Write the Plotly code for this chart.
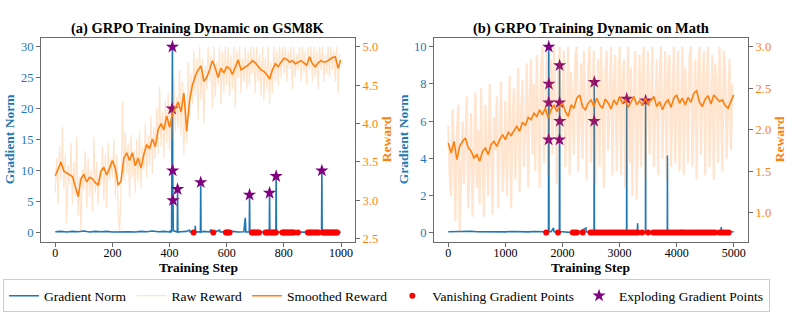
import plotly.graph_objects as go

W, H = 793, 317
FONT = "Liberation Serif"
BLUE = "#1f77b4"
ORANGE = "#ff7f0e"
RAW_A = "rgba(255,127,14,0.22)"
RAW_B = "rgba(255,127,14,0.2)"
SPINE = "#6a6a6a"

# ---------------- (a) GSM8K ----------------
grad_steps_a = [0, 20, 40, 60, 80, 100, 120, 140, 160, 180, 200, 220, 240, 260, 280, 300, 320, 340, 360, 380, 400,
                402, 404, 407, 409, 410, 411, 412, 413, 420, 427, 428, 429, 440, 460, 470, 472, 480, 484, 489, 490, 491,
                500, 508, 509, 510, 520, 540, 545, 547, 553, 560, 575, 577, 590, 600, 610, 620, 640, 660, 665, 667,
                679, 680, 681, 690, 700, 705, 707, 720, 730, 740, 749, 750, 751, 760, 772, 773, 774, 785, 800, 820,
                840, 860, 880, 900, 920, 932, 933, 934, 950, 970, 990, 999]
grad_vals_a = [0.15, 0.2, 0.1, 0.2, 0.15, 0.25, 0.1, 0.2, 0.15, 0.2, 0.1, 0.15, 0.2, 0.15, 0.1, 0.2, 0.15, 0.25, 0.15, 0.2, 0.1,
               0.35, 0.1, 0.2, 20.0, 30.0, 10.0, 5.2, 0.3, 0.2, 0.1, 7.0, 0.1, 0.15, 0.2, 0.4, 0.1, 0.15, 0.0, 0.1, 1.1, 0.1,
               0.15, 0.1, 8.1, 0.1, 0.2, 0.1, 0.5, 0.1, 0.0, 0.15, 0.4, 0.1, 0.15, 0.0, 0.0, 0.2, 0.1, 0.15, 2.4, 0.1,
               0.1, 6.1, 0.1, 0.0, 0.05, 0.3, 0.0, 0.1, 0.15, 0.0, 0.05, 6.4, 0.05, 0.0, 0.05, 9.1, 0.05, 0.1, 0.0, 0.05,
               0.0, 0.1, 0.05, 0.0, 0.05, 0.05, 10.0, 0.05, 0.0, 0.05, 0.0, 0.05]

vanish_steps_a = [484, 553, 597, 601, 605, 610, 688, 692, 697, 702, 707, 713, 736, 741, 746, 752, 758, 763, 768, 772,
                  795, 799, 803, 808, 812, 817, 822, 826, 831, 836, 849, 884, 889, 894, 899, 905, 911, 917, 922,
                  936, 940, 944, 948, 952, 957, 961, 965, 970, 974, 979, 983, 987]
vanish_vals_a = [0.0] * len(vanish_steps_a)

explode_steps_a = [409, 410, 411, 412, 428, 509, 680, 750, 773, 933]
explode_vals_a = [20.0, 30.0, 10.0, 5.2, 7.0, 8.1, 6.1, 6.4, 9.1, 10.0]

raw_steps_a = list(range(0, 1000, 5))
raw_a = [
    3.10, 3.55, 2.95, 3.70, 3.25, 3.96, 3.15, 3.60, 2.70, 3.45, 3.20, 3.75, 2.95, 3.50, 3.05, 3.83, 2.80, 3.30, 2.58, 3.40,
    3.15, 3.65, 2.90, 3.55, 3.05, 3.40, 2.85, 3.83, 3.10, 3.50, 2.95, 3.35, 3.20, 3.70, 3.00, 3.60, 2.90, 3.75, 3.25, 3.55,
    3.30, 3.80, 3.05, 3.60, 2.85, 2.58, 3.10, 4.28, 3.25, 3.90, 3.35, 3.75, 3.05, 3.85, 3.30, 3.65, 3.10, 3.80, 3.25, 3.90,
    3.15, 3.70, 3.40, 4.00, 3.30, 3.85, 3.45, 4.10, 3.35, 3.95, 3.55, 4.20, 3.60, 4.48, 3.70, 4.15, 3.55, 4.30, 3.75, 4.40,
    3.65, 4.25, 3.80, 4.60, 3.90, 4.35, 3.95, 4.70, 3.85, 4.55, 3.60, 4.30, 3.75, 4.80, 4.10, 4.65, 4.25, 4.95, 4.35, 4.85,
    4.05, 5.00, 4.30, 4.85, 4.00, 4.75, 4.45, 5.00, 4.55, 4.90, 4.20, 5.00, 4.35, 4.80, 4.50, 5.00, 4.25, 4.95, 4.40, 5.00,
    4.50, 5.00, 4.35, 4.90, 4.45, 5.00, 4.20, 4.95, 4.60, 5.00, 4.40, 4.85, 4.55, 5.00, 4.45, 4.95, 4.50, 5.00, 4.65, 5.00,
    4.40, 5.00, 4.55, 4.90, 4.35, 5.00, 4.30, 4.85, 4.45, 5.00, 4.25, 4.80, 4.40, 5.00, 4.55, 4.95, 4.50, 5.00, 4.60, 5.00,
    4.65, 5.00, 4.55, 4.95, 4.70, 5.00, 4.45, 5.00, 4.60, 4.90, 4.70, 5.00, 4.55, 5.00, 4.65, 4.95, 4.50, 5.00, 4.70, 5.00,
    4.55, 5.00, 4.60, 4.95, 4.45, 5.00, 4.70, 5.00, 4.55, 4.90, 4.65, 5.00, 4.60, 5.00, 4.70, 4.95, 4.55, 5.00, 4.40, 4.90,
]

smooth_steps_a = list(range(0, 1000, 10)) + [999]
smooth_a = [
    3.32, 3.40, 3.50, 3.38, 3.36, 3.33, 3.31, 3.18, 3.05, 3.28,
    3.34, 3.24, 3.30, 3.28, 3.23, 3.20, 3.38, 3.43, 3.33, 3.42,
    3.52, 3.42, 3.20, 3.25, 3.55, 3.62, 3.52, 3.62, 3.45, 3.55,
    3.42, 3.60, 3.72, 3.68, 3.80, 3.70, 3.92, 4.00, 3.92, 4.10,
    3.95, 4.12, 4.20, 4.28, 4.15, 4.40, 3.90, 4.30, 4.50, 4.62,
    4.70, 4.75, 4.55, 4.60, 4.70, 4.82, 4.72, 4.60, 4.72, 4.66,
    4.74, 4.72, 4.64, 4.75, 4.83, 4.70, 4.72, 4.75, 4.78, 4.82,
    4.79, 4.75, 4.70, 4.68, 4.64, 4.58, 4.70, 4.78, 4.74, 4.80,
    4.85, 4.84, 4.80, 4.82, 4.78, 4.80, 4.82, 4.79, 4.76, 4.87,
    4.78, 4.74, 4.79, 4.82, 4.80, 4.81, 4.84, 4.86, 4.87, 4.72,
    4.83,
]

# ---------------- (b) Math ----------------
grad_steps_b = [0, 100, 200, 300, 400, 500, 600, 700, 800, 900, 1000, 1100, 1200, 1300, 1400, 1500, 1600, 1700,
                1715, 1755, 1757, 1759, 1760, 1762, 1764, 1800, 1845, 1850, 1922, 1946, 1948, 1949, 1950, 1952, 1954,
                2000, 2180, 2300, 2410, 2415, 2500, 2553, 2555, 2557, 2559, 2700, 2900, 3100, 3123, 3125, 3127,
                3310, 3316, 3320, 3454, 3456, 3458, 3600, 3836, 3838, 3840, 4100, 4105, 4400, 4775, 4780, 4785, 4999]
grad_vals_b = [0.05, 0.06, 0.04, 0.05, 0.07, 0.05, 0.04, 0.06, 0.05, 0.05, 0.04, 0.06, 0.05, 0.05, 0.04, 0.06, 0.05, 0.05,
               0.0, 0.05, 5.0, 7.0, 10.0, 8.0, 0.05, 0.05, 0.25, 0.05, 0.0, 0.05, 5.0, 7.0, 9.0, 6.0, 0.05,
               0.05, 0.0, 0.05, 0.25, 0.05, 0.0, 0.0, 6.0, 8.1, 0.0, 0.0, 0.0, 0.0, 0.0, 7.2, 0.0,
               0.0, 0.5, 0.0, 0.0, 7.15, 0.0, 0.0, 0.0, 4.15, 0.0, 0.12, 0.0, 0.02, 0.0, 0.3, 0.0, 0.05]

vanish_steps_b = [1715, 1922, 2180, 2215, 2250, 2355, 2490, 2525, 2560, 2600, 2640, 2680, 2720, 2760, 2800, 2840,
                  2880, 2920, 2960, 3000, 3040, 3080, 3120, 3160, 3200, 3240, 3280, 3320, 3395, 3500, 3590, 3630,
                  3670, 3710, 3750, 3790, 3830, 3870, 3910, 3950, 3990, 4030, 4070, 4110, 4150, 4190, 4230, 4270,
                  4310, 4350, 4390, 4430, 4470, 4510, 4550, 4590, 4630, 4670, 4750, 4790, 4830, 4870, 4910]
vanish_vals_b = [0.0] * len(vanish_steps_b)

explode_steps_b = [1757, 1759, 1760, 1762, 1948, 1949, 1950, 1952, 2555, 2557, 3125, 3456]
explode_vals_b = [5.0, 7.0, 10.0, 8.0, 5.0, 7.0, 9.0, 6.0, 6.0, 8.1, 7.2, 7.1]

raw_steps_b = list(range(0, 5000, 25))
raw_b = [
    2.05, 1.45, 1.20, 2.25, 1.70, 0.90, 1.95, 2.30, 0.76, 1.60, 2.10, 1.35, 1.85, 2.40, 1.05, 1.55, 2.20, 0.95, 1.75, 2.45,
    1.30, 2.00, 1.10, 2.50, 1.65, 0.95, 2.30, 1.85, 1.20, 2.55, 1.50, 0.98, 2.15, 1.75, 2.40, 1.05, 1.90, 2.58, 1.25, 1.60,
    2.35, 1.20, 1.85, 2.65, 1.05, 2.10, 2.50, 1.40, 1.95, 2.75, 1.25, 2.20, 2.60, 1.55, 2.00, 2.80, 1.30, 2.40, 2.85, 1.70,
    2.55, 1.50, 2.90, 2.10, 1.30, 2.75, 3.00, 1.60, 2.35, 2.95, 1.45, 2.20, 2.85, 1.70, 3.00, 2.40, 1.35, 2.65, 3.00, 1.85,
    2.45, 2.95, 1.55, 2.10, 3.00, 1.45, 2.70, 2.30, 1.70, 2.90, 3.00, 1.50, 2.20, 2.80, 1.65, 2.95, 2.35, 1.40, 2.75, 3.00,
    1.60, 2.50, 2.95, 1.35, 2.15, 2.85, 1.55, 3.00, 2.40, 1.30, 2.70, 2.95, 1.75, 2.25, 3.00, 1.45, 2.60, 2.90, 1.50, 2.35,
    3.00, 1.45, 2.55, 2.85, 1.30, 2.20, 3.00, 1.60, 2.75, 1.20, 2.45, 2.95, 1.16, 2.10, 2.90, 1.55, 2.65, 3.00, 1.40, 2.30,
    2.95, 1.70, 2.40, 3.00, 1.55, 2.15, 2.85, 1.45, 2.60, 3.00, 1.65, 2.30, 2.95, 1.40, 2.70, 2.90, 1.55, 2.25, 3.00, 1.60,
    2.50, 2.95, 1.50, 2.20, 3.00, 1.45, 2.75, 2.40, 1.60, 2.90, 3.00, 1.55, 2.30, 2.85, 1.40, 2.65, 3.00, 1.70, 2.45, 2.95,
    1.45, 2.60, 3.00, 1.55, 2.25, 2.90, 1.40, 2.80, 2.50, 1.60, 3.00, 2.35, 1.50, 2.95, 2.70, 1.65, 2.40, 2.85, 1.75, 2.55,
]

smooth_steps_b = list(range(0, 5000, 50)) + [4999]
smooth_b = [
    1.84, 1.72, 1.86, 1.64, 1.80, 1.86, 1.90, 1.78, 1.74, 1.66,
    1.70, 1.62, 1.74, 1.78, 1.70, 1.82, 1.86, 1.80, 1.88, 1.94,
    1.88, 1.97, 1.93, 1.99, 2.04, 1.98, 2.09, 2.05, 2.15, 2.12,
    2.20, 2.16, 2.24, 2.18, 2.26, 2.14, 2.24, 2.30, 2.22, 2.28,
    2.32, 2.22, 2.16, 2.30, 2.26, 2.38, 2.42, 2.28, 2.24, 2.32,
    2.36, 2.28, 2.38, 2.30, 2.26, 2.37, 2.32, 2.25, 2.36, 2.30,
    2.40, 2.32, 2.36, 2.27, 2.34, 2.40, 2.30, 2.35, 2.29, 2.38,
    2.31, 2.36, 2.40, 2.28, 2.34, 2.24, 2.32, 2.36, 2.27, 2.38,
    2.42, 2.32, 2.38, 2.30, 2.39, 2.33, 2.44, 2.47, 2.33, 2.28,
    2.37, 2.41, 2.31, 2.42, 2.38, 2.34, 2.36, 2.29, 2.26, 2.34,
    2.42,
]

x_ticks_a = [0, 200, 400, 600, 800, 1000]
x_ticks_b = [0, 1000, 2000, 3000, 4000, 5000]
g_ticks_a = [0, 5, 10, 15, 20, 25, 30]
g_ticks_b = [0, 2, 4, 6, 8, 10]
r_ticks_a = [2.5, 3.0, 3.5, 4.0, 4.5, 5.0]
r_ticks_b = [1.0, 1.5, 2.0, 2.5, 3.0]

titles = ["(a) GRPO Training Dynamic on GSM8K", "(b) GRPO Training Dynamic on Math"]

fig = go.Figure()

def add_panel(xa, ya, ya2, gs, gv, vs, vv, es, ev, rs, rv, ss, sv, show, raw_color, raw_w):
    fig.add_trace(go.Scatter(x=gs, y=gv, mode="lines", name="Gradient Norm",
                             line=dict(color=BLUE, width=1.6), xaxis=xa, yaxis=ya,
                             showlegend=show, legendrank=1))
    fig.add_trace(go.Scatter(x=vs, y=vv, mode="markers", name="Vanishing Gradient Points",
                             marker=dict(color="red", size=6), xaxis=xa, yaxis=ya,
                             showlegend=show, legendrank=4))
    fig.add_trace(go.Scatter(x=es, y=ev, mode="markers", name="Exploding Gradient Points",
                             marker=dict(color="#800080", size=10, symbol="star"), xaxis=xa, yaxis=ya,
                             showlegend=show, legendrank=5))
    fig.add_trace(go.Scatter(x=rs, y=rv, mode="lines", name="Raw Reward",
                             line=dict(color=raw_color, width=raw_w), xaxis=xa, yaxis=ya2,
                             showlegend=show, legendrank=2))
    fig.add_trace(go.Scatter(x=ss, y=sv, mode="lines", name="Smoothed Reward",
                             line=dict(color=ORANGE, width=1.6), xaxis=xa, yaxis=ya2,
                             showlegend=show, legendrank=3))

add_panel("x", "y", "y2", grad_steps_a, grad_vals_a, vanish_steps_a, vanish_vals_a,
          explode_steps_a, explode_vals_a, raw_steps_a, raw_a, smooth_steps_a, smooth_a, True, RAW_A, 1.2)
add_panel("x2", "y3", "y4", grad_steps_b, grad_vals_b, vanish_steps_b, vanish_vals_b,
          explode_steps_b, explode_vals_b, raw_steps_b, raw_b, smooth_steps_b, smooth_b, False, RAW_B, 2.2)

dom_a = [41 / W, 355 / W]
dom_b = [434 / W, 748 / W]
dom_y = [1 - 245 / H, 1 - 38 / H]

common = dict(showline=True, linecolor=SPINE, linewidth=1.2, ticks="outside", ticklen=4,
              tickcolor=SPINE, tickwidth=1, showgrid=False, zeroline=False)
tf = dict(family=FONT, size=12.5)

def xax(dom, rng, tv, anchor):
    return dict(domain=dom, range=rng, tickvals=tv, anchor=anchor, mirror=True,
                ticklabelstandoff=-4,
                tickfont=dict(family=FONT, size=12, color="black"), **common)

def yax(rng, tv, anchor):
    return dict(domain=dom_y, range=rng, tickvals=tv, anchor=anchor,
                tickfont=dict(tf, color=BLUE), **common)

def yax2(rng, tv, over, anchor):
    return dict(range=rng, tickvals=tv, ticktext=["%.1f" % v for v in tv], overlaying=over,
                side="right", anchor=anchor, tickfont=dict(tf, color=ORANGE), **common)

fig.update_layout(
    width=W, height=H, autosize=False,
    margin=dict(l=0, r=0, t=0, b=0),
    paper_bgcolor="white", plot_bgcolor="white",
    font=dict(family=FONT, size=13, color="black"),
    xaxis=xax(dom_a, [-50, 1049], x_ticks_a, "y"),
    yaxis=yax([-1.5, 31.5], g_ticks_a, "x"),
    yaxis2=yax2([2.459, 5.121], r_ticks_a, "y", "x"),
    xaxis2=xax(dom_b, [-250, 5249], x_ticks_b, "y3"),
    yaxis3=yax([-0.5, 10.5], g_ticks_b, "x2"),
    yaxis4=yax2([0.647, 3.112], r_ticks_b, "y3", "x2"),
    legend=dict(orientation="h", x=3 / W, y=1 - 283 / H, xanchor="left", yanchor="top",
                bordercolor="#cccccc", borderwidth=1, bgcolor="white",
                font=dict(family=FONT, size=13.5, color="black"), itemwidth=30,
                traceorder="normal"),
)

ann = []
for t, dom in zip(titles, [dom_a, dom_b]):
    ann.append(dict(text="<b>%s</b>" % t, x=(dom[0] + dom[1]) / 2, y=1 - 29 / H, xref="paper", yref="paper",
                    xanchor="center", yanchor="middle",
                    showarrow=False, font=dict(family=FONT, size=14.5, color="black")))
    ann.append(dict(text="<b>Training Step</b>", x=(dom[0] + dom[1]) / 2, y=1 - 271 / H, xref="paper", yref="paper",
                    xanchor="center", yanchor="middle", borderpad=0,
                    showarrow=False, font=dict(family=FONT, size=13.5, color="black")))
for xp in [9, 403]:
    ann.append(dict(text="<b>Gradient Norm</b>", x=xp / W, y=1 - 141 / H, xref="paper", yref="paper",
                    xanchor="center", yanchor="middle",
                    textangle=-90, showarrow=False, font=dict(family=FONT, size=13.5, color=BLUE)))
for xp in [386, 779]:
    ann.append(dict(text="<b>Reward</b>", x=xp / W, y=1 - 141 / H, xref="paper", yref="paper",
                    xanchor="center", yanchor="middle",
                    textangle=-90, showarrow=False, font=dict(family=FONT, size=13.5, color=ORANGE)))
fig.update_layout(annotations=ann)

fig.write_html("out.html", config={"displayModeBar": False},
               post_script="document.body.style.margin='0';")
